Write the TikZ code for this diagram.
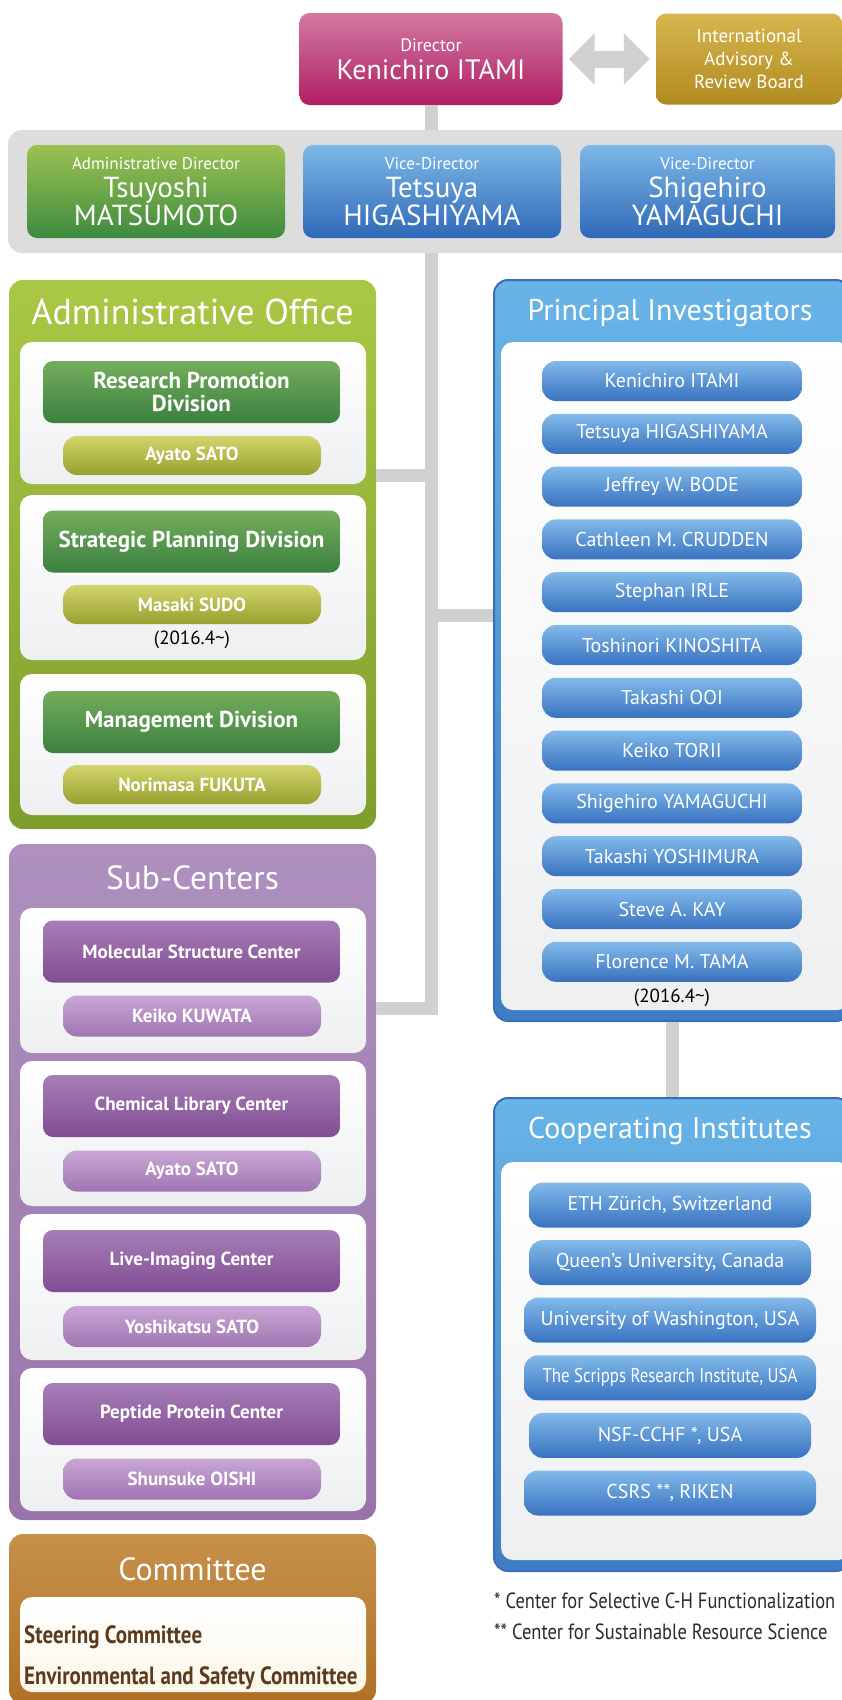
\documentclass[tikz,border=0pt]{standalone}
\usepackage{fontspec}
\setmainfont{PT Sans}
\newfontfamily\narrowsf[FakeStretch=0.84]{PT Sans}
\usetikzlibrary{arrows.meta}

\definecolor{dirtop}{HTML}{D27AA2}
\definecolor{dirbot}{HTML}{B01E63}
\definecolor{advtop}{HTML}{D8B64E}
\definecolor{advbot}{HTML}{B08B20}
\definecolor{grntop}{HTML}{9CC152}
\definecolor{grnbot}{HTML}{3E8B3F}
\definecolor{blutop}{HTML}{7DB8E8}
\definecolor{blubot}{HTML}{2F69B7}
\definecolor{bandgray}{HTML}{DDDDDD}
\definecolor{linkgray}{HTML}{D0D0D0}
\definecolor{limetop}{HTML}{AAC845}
\definecolor{limebot}{HTML}{7F9D2C}
\definecolor{divtop}{HTML}{74AD5C}
\definecolor{divbot}{HTML}{3B8040}
\definecolor{olvtop}{HTML}{D2D56C}
\definecolor{olvbot}{HTML}{98A02E}
\definecolor{purtop}{HTML}{AE90BF}
\definecolor{purbot}{HTML}{9874AA}
\definecolor{ctrtop}{HTML}{A67FB6}
\definecolor{ctrbot}{HTML}{824C93}
\definecolor{ppltop}{HTML}{C9A8D5}
\definecolor{pplbot}{HTML}{A074B2}
\definecolor{cmttop}{HTML}{C6914A}
\definecolor{cmtbot}{HTML}{B07026}
\definecolor{cream}{HTML}{FBF7EA}
\definecolor{cmttext}{HTML}{5B3B1C}
\definecolor{pitop}{HTML}{68B4E7}
\definecolor{pibot}{HTML}{3E7DC5}
\definecolor{piedge}{HTML}{3A6DBB}
\definecolor{pilltop}{HTML}{82BAEA}
\definecolor{pillbot}{HTML}{3872BF}
\definecolor{panelgray}{HTML}{EEEFF1}
\definecolor{notetext}{HTML}{2A2A2A}

\tikzset{
  section/.style={rounded corners=14pt, inner sep=0pt, minimum width=367pt},
  panel/.style={rounded corners=12pt, top color=white, bottom color=panelgray, inner sep=0pt, minimum width=346pt},
  heading/.style={text=white, inner sep=0pt, font=\fontsize{31}{34}\selectfont},
  topbox/.style={rounded corners=10pt, text=white, align=center, inner sep=0pt},
  namebox/.style={topbox, minimum height=93pt, font=\fontsize{29}{26}\selectfont},
  divbox/.style={rounded corners=10pt, top color=divtop, bottom color=divbot, text=white, align=center,
    minimum width=297pt, minimum height=62pt, inner sep=0pt, font=\bfseries\fontsize{23}{23}\selectfont},
  olvpill/.style={rounded corners=14pt, top color=olvtop, bottom color=olvbot, text=white,
    minimum width=258pt, minimum height=39pt, inner sep=0pt, font=\bfseries\fontsize{19}{22}\selectfont},
  ctrbox/.style={rounded corners=10pt, top color=ctrtop, bottom color=ctrbot, text=white,
    minimum width=297pt, minimum height=62pt, inner sep=0pt, font=\bfseries\fontsize{19}{22}\selectfont},
  pplpill/.style={rounded corners=14pt, top color=ppltop, bottom color=pplbot, text=white,
    minimum width=258pt, minimum height=41pt, inner sep=0pt, font=\bfseries\fontsize{19}{22}\selectfont},
  pipill/.style={rounded corners=14pt, top color=pilltop, bottom color=pillbot, text=white,
    minimum width=260pt, minimum height=40pt, inner sep=0pt, font=\fontsize{20}{22}\selectfont},
  inspill/.style={pipill, minimum height=45pt, font=\fontsize{20}{22}\selectfont},
  dated/.style={inner sep=0pt, font=\fontsize{19}{20}\selectfont},
  cmtline/.style={text=cmttext, anchor=west, inner sep=0pt, font=\narrowsf\bfseries\fontsize{25}{26}\selectfont},
  note/.style={text=notetext, anchor=west, inner sep=0pt, font=\narrowsf\fontsize{22}{24}\selectfont},
  link/.style={draw=linkgray, line width=13pt},
  twoway/.style={draw=linkgray, line width=17pt,
    {Triangle[length=26pt,width=50pt]}-{Triangle[length=26pt,width=50pt]},
    shorten <=6pt, shorten >=6pt}
}

\begin{document}
\begin{tikzpicture}[x=1pt,y=-1pt]
  \useasboundingbox (0,0) rectangle (842,1700);

  % director and board
  \node[topbox, top color=dirtop, bottom color=dirbot, minimum width=263pt, minimum height=92pt,
    font=\fontsize{28}{28}\selectfont] (director) at (431,59)
    {{\fontsize{18}{20}\selectfont Director}\\[0pt]Kenichiro ITAMI};
  \node[topbox, top color=advtop, bottom color=advbot, minimum width=186pt, minimum height=91pt,
    font=\fontsize{19}{23}\selectfont] (advisory) at (749,59)
    {International\\Advisory \&\\Review Board};
  \draw[twoway] (director) -- (advisory);

  % gray band
  \node[rounded corners=14pt, fill=bandgray, minimum width=852pt, minimum height=123pt] (band) at (434,191.5) {};
  \node[namebox, top color=grntop, bottom color=grnbot, minimum width=258pt] (admdir) at (156,191.5)
    {{\fontsize{17}{20}\selectfont Administrative Director}\\[2pt]Tsuyoshi\\MATSUMOTO};
  \node[namebox, top color=blutop, bottom color=blubot, minimum width=258pt] (vicea) at (432,191.5)
    {{\fontsize{17}{20}\selectfont Vice-Director}\\[2pt]Tetsuya\\HIGASHIYAMA};
  \node[namebox, top color=blutop, bottom color=blubot, minimum width=255pt] (viceb) at (707.5,191.5)
    {{\fontsize{17}{20}\selectfont Vice-Director}\\[2pt]Shigehiro\\YAMAGUCHI};
  \draw[link] (director.south) -- (director.south |- band.north);

  % administrative office
  \node[section, top color=limetop, bottom color=limebot, minimum height=549pt] (adminoffice) at (192.5,554.5) {};
  \node[heading, font=\fontsize{36}{38}\selectfont] (admintitle) at (192.5,312) {Administrative Office};
  \node[panel, minimum height=142pt] (admpanela) at (193,413) {};
  \node[panel, minimum height=165pt] (admpanelb) at (193,577.5) {};
  \node[panel, minimum height=141pt] (admpanelc) at (193,744.5) {};
  \node[divbox] (research) at (191.5,392) {Research Promotion\\Division};
  \node[olvpill] (researchhead) at (192,455.5) {Ayato SATO};
  \node[divbox] (strategic) at (191.5,541.5) {Strategic Planning Division};
  \node[olvpill] (strategichead) at (192,604.5) {Masaki SUDO};
  \node[dated] (strategicdate) at (192,640) {(2016.4\textasciitilde)};
  \node[divbox] (management) at (191.5,722) {Management Division};
  \node[olvpill] (managementhead) at (192,784.5) {Norimasa FUKUTA};

  % sub-centers
  \node[section, top color=purtop, bottom color=purbot, minimum height=676pt] (subcenters) at (192.5,1182) {};
  \node[heading, font=\fontsize{33.5}{36}\selectfont] (subtitle) at (192.5,878) {Sub-Centers};
  \node[panel, minimum height=145pt] (subpanela) at (193,980.5) {};
  \node[panel, minimum height=145pt] (subpanelb) at (193,1133.5) {};
  \node[panel, minimum height=146pt] (subpanelc) at (193,1287) {};
  \node[panel, minimum height=143pt] (subpaneld) at (193,1439.5) {};
  \node[ctrbox] (molecular) at (191.5,951.5) {Molecular Structure Center};
  \node[pplpill] (molecularhead) at (192,1016) {Keiko KUWATA};
  \node[ctrbox] (chemical) at (191.5,1106) {Chemical Library Center};
  \node[pplpill] (chemicalhead) at (192,1171) {Ayato SATO};
  \node[ctrbox] (imaging) at (191.5,1261) {Live-Imaging Center};
  \node[pplpill] (imaginghead) at (192,1326.5) {Yoshikatsu SATO};
  \node[ctrbox] (peptide) at (191.5,1414) {Peptide Protein Center};
  \node[pplpill] (peptidehead) at (192,1479) {Shunsuke OISHI};

  % committee
  \node[section, top color=cmttop, bottom color=cmtbot, minimum height=170pt] (committee) at (192.5,1619) {};
  \node[heading, font=\fontsize{32}{34}\selectfont] (cmttitle) at (192.5,1569) {Committee};
  \node[panel, top color=white, bottom color=cream, minimum height=95pt] (cmtpanel) at (193,1644.5) {};
  \node[cmtline] (steering) at (24,1637) {Steering Committee};
  \node[cmtline] (safety) at (24,1678) {Environmental and Safety Committee};

  % principal investigators
  \node[section, top color=pitop, bottom color=pibot, draw=piedge, line width=2pt, minimum width=356pt, minimum height=741pt] (pi) at (672,650.5) {};
  \node[heading, font=\fontsize{30}{32}\selectfont] (pititle) at (670,313) {Principal Investigators};
  \node[panel, minimum width=349pt, minimum height=668pt] (pipanel) at (675.5,676) {};
  \node[pipill] (itami) at (672,381) {Kenichiro ITAMI};
  \node[pipill] (higashiyama) at (672,433.8) {Tetsuya HIGASHIYAMA};
  \node[pipill] (bode) at (672,486.6) {Jeffrey W. BODE};
  \node[pipill] (crudden) at (672,539.4) {Cathleen M. CRUDDEN};
  \node[pipill] (irle) at (672,592.2) {Stephan IRLE};
  \node[pipill] (kinoshita) at (672,645) {Toshinori KINOSHITA};
  \node[pipill] (ooi) at (672,697.8) {Takashi OOI};
  \node[pipill] (torii) at (672,750.6) {Keiko TORII};
  \node[pipill] (yamaguchi) at (672,803.4) {Shigehiro YAMAGUCHI};
  \node[pipill] (yoshimura) at (672,856.2) {Takashi YOSHIMURA};
  \node[pipill] (kay) at (672,909) {Steve A. KAY};
  \node[pipill] (tama) at (672,961.8) {Florence M. TAMA};
  \node[dated] (tamadate) at (672,998) {(2016.4\textasciitilde)};

  % cooperating institutes
  \node[section, top color=pitop, bottom color=pibot, draw=piedge, line width=2pt, minimum width=356pt, minimum height=473pt] (coop) at (672,1334.5) {};
  \node[heading, font=\fontsize{30}{32}\selectfont] (cooptitle) at (670,1131) {Cooperating Institutes};
  \node[panel, minimum width=349pt, minimum height=398pt] (cooppanel) at (675.5,1361) {};
  \node[inspill, minimum width=282pt] (eth) at (670,1205) {ETH Zürich, Switzerland};
  \node[inspill, minimum width=282pt] (queens) at (670,1262.6) {Queen’s University, Canada};
  \node[inspill, minimum width=292pt] (washington) at (670,1320.2) {University of Washington, USA};
  \node[inspill, minimum width=292pt, font=\narrowsf\fontsize{20}{22}\selectfont] (scripps) at (670,1377.8) {The Scripps Research Institute, USA};
  \node[inspill, minimum width=282pt] (nsf) at (670,1435.4) {NSF-CCHF *, USA};
  \node[inspill, minimum width=292pt] (csrs) at (670,1493) {CSRS **, RIKEN};

  \node[note] (notea) at (494,1601) {* Center for Selective C-H Functionalization};
  \node[note] (noteb) at (494,1632) {** Center for Sustainable Resource Science};

  % connectors
  \coordinate (jadmin) at (431,475);
  \coordinate (jpi) at (431,615);
  \coordinate (jsub) at (431,1008);
  \draw[link] (band.south -| jsub) -- (jsub) -- (subcenters.east |- jsub);
  \draw[link] (adminoffice.east |- jadmin) -- (jadmin);
  \draw[link] (jpi) -- (pi.west |- jpi);
  \draw[link] (pi) -- (coop);
\end{tikzpicture}
\end{document}
